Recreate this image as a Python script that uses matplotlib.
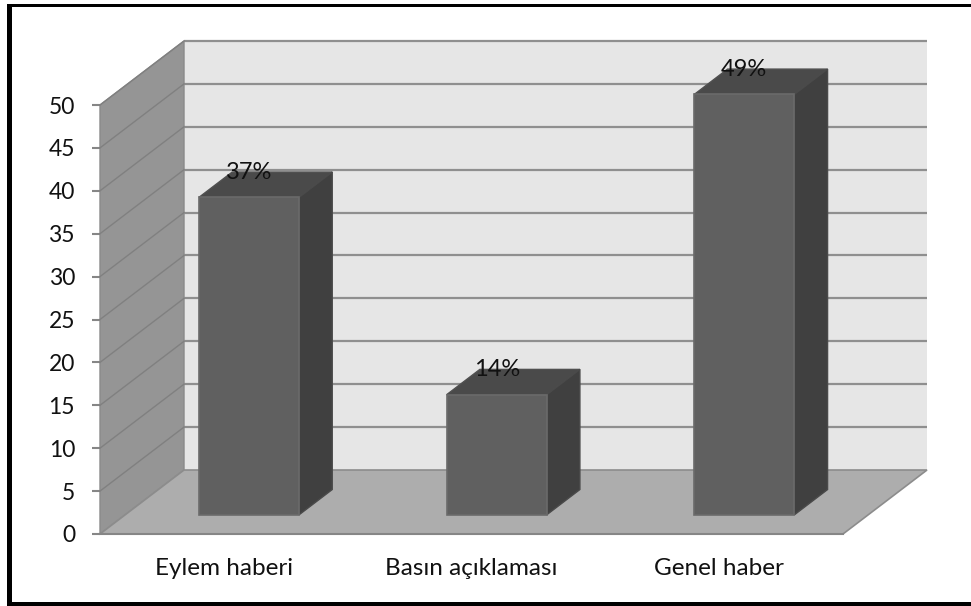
import matplotlib
matplotlib.use('Agg')
import matplotlib.pyplot as plt
from matplotlib.patches import Rectangle

plt.rcParams['font.family'] = ['Lato', 'DejaVu Sans']

categories = ['Eylem haberi', 'Basın açıklaması', 'Genel haber']
values = [37, 14, 49]
y_ticks = [0, 5, 10, 15, 20, 25, 30, 35, 40, 45, 50]

W, H = 971, 606
# front plane of the fake 3D box, in pixels
LEFT, RIGHT, TOP, BOTTOM = 100, 843, 105, 534
DEPTH_X = 84 * 3 / (RIGHT - LEFT)        # wall depth in x data units
DEPTH_Y = 64 * 50 / (BOTTOM - TOP)       # wall depth in y data units
BAR_W = 0.404
BAR_D0, BAR_D1 = 0.30, 0.695             # bar front/back as fraction of the depth


def proj(x, y, d):
    '''oblique projection: depth d (0 front, 1 back) shifts right and up'''
    return x + d * DEPTH_X, y + d * DEPTH_Y


def face(ax, pts, color, edge=None, lw=1.0, z=1):
    xs, ys = zip(*[proj(*p) for p in pts])
    ax.fill(xs, ys, facecolor=color, edgecolor=edge or 'none', lw=lw, clip_on=False, zorder=z)


fig = plt.figure(figsize=(W / 100, H / 100), dpi=100, facecolor='white')
ax = fig.add_axes([LEFT / W, 1 - BOTTOM / H, (RIGHT - LEFT) / W, (BOTTOM - TOP) / H])
ax.set_xlim(0, 3)
ax.set_ylim(0, 50)
ax.patch.set_visible(False)

# walls and floor
face(ax, [(0, 0, 1), (3, 0, 1), (3, 50, 1), (0, 50, 1)], '#e6e6e6')
face(ax, [(0, 0, 0), (0, 0, 1), (0, 50, 1), (0, 50, 0)], '#959595', edge='#8a8a8a')
face(ax, [(0, 0, 0), (3, 0, 0), (3, 0, 1), (0, 0, 1)], '#adadad', edge='#8c8c8c', lw=1.2)

# gridlines: back wall and side wall
for t in y_ticks[1:]:
    bx, by = zip(proj(0, t, 1), proj(3, t, 1))
    ax.plot(bx, by, color='#8f8f8f', lw=1.6, clip_on=False, zorder=2, solid_capstyle='butt')
    sx, sy = zip(proj(0, t, 0), proj(0, t, 1))
    ax.plot(sx, sy, color='#808080', lw=1.0, clip_on=False, zorder=2)

# bars
for i, v in enumerate(values):
    x0 = i + 0.5 - BAR_W / 2
    x1 = i + 0.5 + BAR_W / 2
    face(ax, [(x0, v, BAR_D0), (x1, v, BAR_D0), (x1, v, BAR_D1), (x0, v, BAR_D1)],
         '#4a4a4a', edge='#505050', z=3)
    face(ax, [(x1, 0, BAR_D0), (x1, 0, BAR_D1), (x1, v, BAR_D1), (x1, v, BAR_D0)],
         '#404040', edge='#4a4a4a', z=3)
    face(ax, [(x0, 0, BAR_D0), (x1, 0, BAR_D0), (x1, v, BAR_D0), (x0, v, BAR_D0)],
         '#606060', edge='#6a6a6a', lw=1.2, z=4)
    # label sits over the back edge of the bar top
    ax.text(proj(i + 0.5, v, BAR_D0)[0], proj(i + 0.5, v, BAR_D1)[1], '%d%%' % v,
            ha='center', va='center', fontsize=17, color='#111111', zorder=5)

for side in ['top', 'right', 'left']:
    ax.spines[side].set_visible(False)
ax.spines['bottom'].set_color('#868686')
ax.spines['bottom'].set_linewidth(1.5)
ax.spines['bottom'].set_zorder(2)

ax.set_yticks(y_ticks)
ax.set_xticks([0.5, 1.5, 2.5])
ax.set_xticklabels(categories)
ax.tick_params(axis='y', length=6, width=1.5, color='#868686', pad=12, labelsize=16.5, labelcolor='#111111')
ax.tick_params(axis='x', length=0, pad=17, labelsize=17.5, labelcolor='#111111')

# black frame: top, left and bottom only, the right side runs off the picture
for x, y, w, h in [(7, 4, W - 7, 3), (7, 4, 5, H - 4), (7, 602, W - 7, 4)]:
    fig.add_artist(Rectangle((x / W, 1 - (y + h) / H), w / W, h / H, transform=fig.transFigure,
                             facecolor='black', edgecolor='none'))

fig.savefig('out.png', dpi=100)
